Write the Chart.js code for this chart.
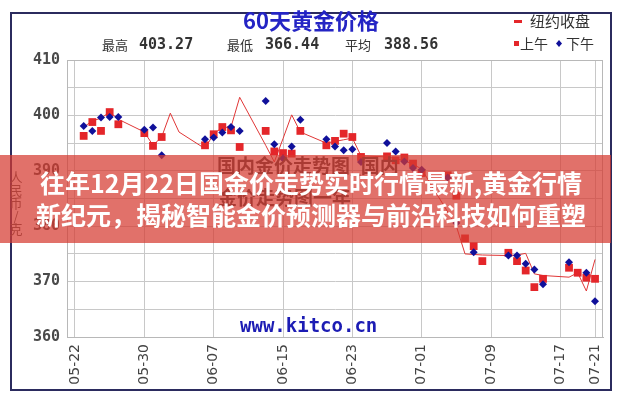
<!DOCTYPE html>
<html>
<head>
<meta charset="utf-8">
<script src="https://cdn.jsdelivr.net/npm/chart.js@4.4.1/dist/chart.umd.min.js"></script>
<style>
  body { margin: 0; background: #fff; }
  #box { width: 622px; height: 400px; }
</style>
</head>
<body>
<div id="box"><canvas id="myChart" width="622" height="400"></canvas></div>
<script>
// trading days (2022), RMB per gram
const tradeDates = [
  '05-23','05-24','05-25','05-26','05-27',
  '05-30','05-31','06-01','06-02','06-03',
  '06-06','06-07','06-08','06-09','06-10',
  '06-13','06-14','06-15','06-16','06-17',
  '06-20','06-21','06-22','06-23','06-24',
  '06-27','06-28','06-29','06-30','07-01',
  '07-04','07-05','07-06','07-07','07-08',
  '07-11','07-12','07-13','07-14','07-15',
  '07-18','07-19','07-20','07-21'
];
// 上午 (red squares)
const amPrices = [
  396.3, 398.8, 397.2, 400.6, 398.4,
  396.8, 394.5, 396.1, null, null,
  394.6, 396.6, 397.9, 397.3, 394.3,
  397.2, 393.5, 393.2, 393.1, 397.2,
  394.6, 395.4, 396.7, 396.1, 392.5,
  392.6, 391.9, 392.4, 391.3, 389.6,
  389.2, 385.5, 377.8, 376.4, 373.7,
  375.2, 373.7, 372.0, 369.0, 370.5,
  372.5, 371.6, 370.7, 370.5
];
// 下午 (blue diamonds)
const pmPrices = [
  398.1, 397.2, 399.6, 399.7, 399.7,
  397.4, 397.8, 392.8, null, null,
  395.7, 396.0, 396.9, 397.9, 397.2,
  402.6, 394.8, 392.2, 394.4, 399.2,
  395.7, 394.4, 393.7, 393.9, 391.6,
  395.0, 393.5, 391.7, 390.5, 390.2,
  388.8, 380.6, null, 375.3, null,
  374.7, 374.7, 373.2, 372.2, 369.5,
  373.5, null, 371.6, 366.44
];
// 纽约收盘 (red line)
const closePrices = [
  397.9, 399.0, 399.5, 400.6, 399.3,
  397.0, 394.6, 396.1, 400.4, 397.0,
  394.0, 396.7, 397.8, 397.9, 403.27,
  394.6, 391.6, 395.8, 400.1, 397.0,
  395.0, 395.3, 395.6, 395.9, 392.7,
  392.5, 392.2, 391.8, 391.2, 390.3,
  null, 380.0, 375.0, 374.9, 374.8,
  374.7, 374.8, 375.1, 371.4, 371.1,
  370.8, 371.6, 368.3, 374.0
];
const tickDates = ['05-22','05-30','06-07','06-15','06-23','07-01','07-09','07-17','07-21'];

function dayIndex(md) {
  const [m, d] = md.split('-').map(Number);
  return (Date.UTC(2022, m - 1, d) - Date.UTC(2022, 4, 22)) / 86400000;
}
function toPoints(values) {
  return tradeDates
    .map((d, i) => ({ x: dayIndex(d), y: values[i] }))
    .filter(p => p.y !== null);
}

const decor = {
  id: 'decor',
  beforeDatasetsDraw(chart) {
    const ctx = chart.ctx;
    ctx.save();
    ctx.font = 'bold 19px "DejaVu Sans Mono"';
    ctx.fillStyle = '#1c1cb4';
    ctx.textBaseline = 'middle';
    ctx.fillText('www.kitco.cn', 240, 327);
    ctx.restore();
  },
  afterDraw(chart) {
    const ctx = chart.ctx;
    const a = chart.chartArea;
    ctx.save();
    // plot border
    ctx.strokeStyle = '#b8b8b8';
    ctx.lineWidth = 1;
    ctx.strokeRect(a.left + 0.5, a.top + 0.5, a.right - a.left - 1, a.bottom - a.top);

    // outer frame
    ctx.strokeStyle = '#2b2b5e';
    ctx.lineWidth = 2;
    ctx.strokeRect(11, 13, 600, 377);

    // title
    ctx.textBaseline = 'middle';
    ctx.textAlign = 'center';
    ctx.fillStyle = '#2424c4';
    ctx.font = 'bold 22px "Noto Sans CJK SC"';
    ctx.fillText('60天黄金价格', 311, 21);

    // stats
    ctx.textAlign = 'left';
    ctx.fillStyle = '#333';
    const stats = [['最高', '403.27', 102, 139], ['最低', '366.44', 227, 265], ['平均', '388.56', 345, 384]];
    stats.forEach(s => {
      ctx.font = '13px "Noto Sans CJK SC"';
      ctx.fillText(s[0], s[2], 45);
      ctx.font = 'bold 15px "DejaVu Sans Mono"';
      ctx.fillText(s[1], s[3], 45);
    });

    // legend
    ctx.fillStyle = '#e4262a';
    ctx.fillRect(514, 20, 8, 3);
    ctx.fillStyle = '#333';
    ctx.font = '15px "Noto Sans CJK SC"';
    ctx.fillText('纽约收盘', 530, 21);
    ctx.fillStyle = '#e4262a';
    ctx.fillRect(514, 41, 5, 5);
    ctx.fillStyle = '#333';
    ctx.font = '14px "Noto Sans CJK SC"';
    ctx.fillText('上午', 520, 44);
    ctx.fillStyle = '#10109a';
    ctx.beginPath();
    ctx.moveTo(559, 40); ctx.lineTo(562, 43.5); ctx.lineTo(559, 47); ctx.lineTo(556, 43.5);
    ctx.closePath(); ctx.fill();
    ctx.fillStyle = '#333';
    ctx.fillText('下午', 566, 44);

    // y title
    ctx.textAlign = 'center';
    ctx.fillStyle = '#555';
    ctx.font = '13px "Noto Sans CJK SC"';
    ['人', '民', '币', '/', '克'].forEach((c, i) => ctx.fillText(c, 16, 177 + i * 13));

    // watermark text inside plot
    ctx.textAlign = 'left';
    ctx.fillStyle = '#3a3a3a';
    ctx.font = 'bold 19px "Noto Sans CJK SC"';
    ctx.fillText('国内金价走势图_国内', 217, 166);
    ctx.fillText('金价走势图一年', 218, 198);

    // banner
    ctx.fillStyle = 'rgba(214, 58, 48, 0.72)';
    ctx.fillRect(0, 155, 611, 88);
    ctx.fillStyle = '#fff';
    ctx.textAlign = 'center';
    ctx.font = 'bold 25px "Noto Sans CJK SC"';
    ctx.fillText('往年12月22日国金价走势实时行情最新,黄金行情', 311, 183);
    ctx.fillText('新纪元，揭秘智能金价预测器与前沿科技如何重塑', 311, 215);
    ctx.restore();
  }
};

var ctx = document.getElementById('myChart').getContext('2d');
var myChart = new Chart(ctx, {
  type: 'scatter',
  data: {
    datasets: [
      {
        label: '下午',
        data: toPoints(pmPrices),
        pointStyle: 'rectRot',
        pointRadius: 4,
        backgroundColor: '#10109a',
        borderColor: '#10109a',
        borderWidth: 0,
        order: 0,
      },
      {
        label: '上午',
        data: toPoints(amPrices),
        pointStyle: 'rect',
        pointRadius: 5.5,
        backgroundColor: '#e4262a',
        borderColor: '#e4262a',
        borderWidth: 0,
        order: 1,
      },
      {
        label: '纽约收盘',
        data: toPoints(closePrices),
        showLine: true,
        pointRadius: 0,
        borderColor: '#e03636',
        borderWidth: 1,
        tension: 0,
        order: 2,
      },
    ],
  },
  options: {
    responsive: false,
    animation: false,
    devicePixelRatio: 1,
    layout: { padding: { left: 0, top: 60, right: 19, bottom: 0 } },
    plugins: { legend: { display: false }, tooltip: { enabled: false } },
    scales: {
      x: {
        type: 'linear',
        min: -0.923,
        max: 60.92,
        afterFit: s => { s.height = 63; },
        afterBuildTicks: s => { s.ticks = tickDates.map(t => ({ value: dayIndex(t) })); },
        grid: { color: '#c8c8c8', drawTicks: false },
        border: { color: '#b8b8b8' },
        ticks: {
          autoSkip: false,
          minRotation: 90,
          maxRotation: 90,
          padding: 7,
          color: '#444',
          font: { family: 'DejaVu Sans', size: 14 },
          callback: v => tickDates.find(t => dayIndex(t) === v) || '',
        },
      },
      y: {
        min: 360,
        max: 410,
        afterFit: s => { s.width = 67; },
        grid: { color: '#c8c8c8', drawTicks: false },
        border: { color: '#b8b8b8' },
        ticks: {
          stepSize: 5,
          padding: 7,
          color: '#4a4a4a',
          font: { family: 'DejaVu Sans Mono', size: 15, weight: 'bold' },
          callback: v => (v % 10 === 0 ? v : ''),
        },
      },
    },
  },
  plugins: [decor],
});
</script>
</body>
</html>
